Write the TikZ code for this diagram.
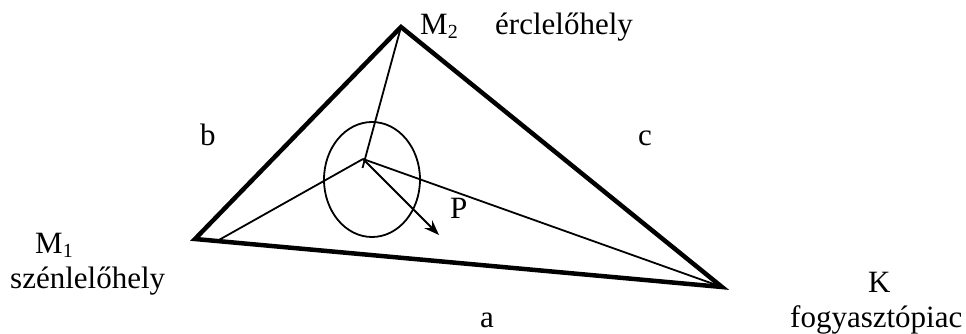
\documentclass[tikz,border=0pt]{standalone}
\usepackage{fontspec}
\setmainfont{Liberation Serif}
\usetikzlibrary{arrows.meta,shapes.geometric}
\tikzset{
  edge/.style={line width=4.5pt, line join=miter, line cap=round},
  thinline/.style={line width=1.8pt},
  lbl/.style={inner sep=0pt, anchor=base west, font=\fontsize{31}{35}\selectfont}
}
\newcommand{\subidx}[1]{\raisebox{-4pt}{\fontsize{20}{22}\selectfont #1}}
\begin{document}
\begin{tikzpicture}[x=1pt,y=-1pt]
\useasboundingbox (0,0) rectangle (966,334);
\coordinate (M1) at (195,239);
\coordinate (M2) at (401,27);
\coordinate (K) at (722,287);
\coordinate (O) at (363,159);
\coordinate (S) at (218,240.5);
\coordinate (T) at (362.5,168);
\coordinate (A) at (439,235);
\node[draw, thinline, ellipse, minimum width=96pt, minimum height=115pt, inner sep=0pt] (E) at (372,179.5) {};
\draw[thinline] (M2) -- (T);
\draw[thinline] (S) -- (O);
\draw[thinline] (O) -- (K);
\draw[thinline, -{Stealth[length=15pt, width=11pt]}] (O) -- (A);
\draw[edge] (M1) -- (M2) -- (K) -- cycle;
\node[lbl] (lM2) at (420,35) {M\subidx{2}};
\node[lbl] (lerc) at (495,35) {érclelőhely};
\node[lbl] (lb) at (200,146) {b};
\node[lbl] (lc) at (638,146) {c};
\node[lbl] (lP) at (450,218) {P};
\node[lbl] (lM1) at (35,253) {M\subidx{1}};
\node[lbl] (lsz) at (10,288) {szénlelőhely};
\node[lbl] (la) at (480,327) {a};
\node[lbl] (lK) at (868,292) {K};
\node[lbl] (lfo) at (790,327) {fogyasztópiac};
\end{tikzpicture}
\end{document}
